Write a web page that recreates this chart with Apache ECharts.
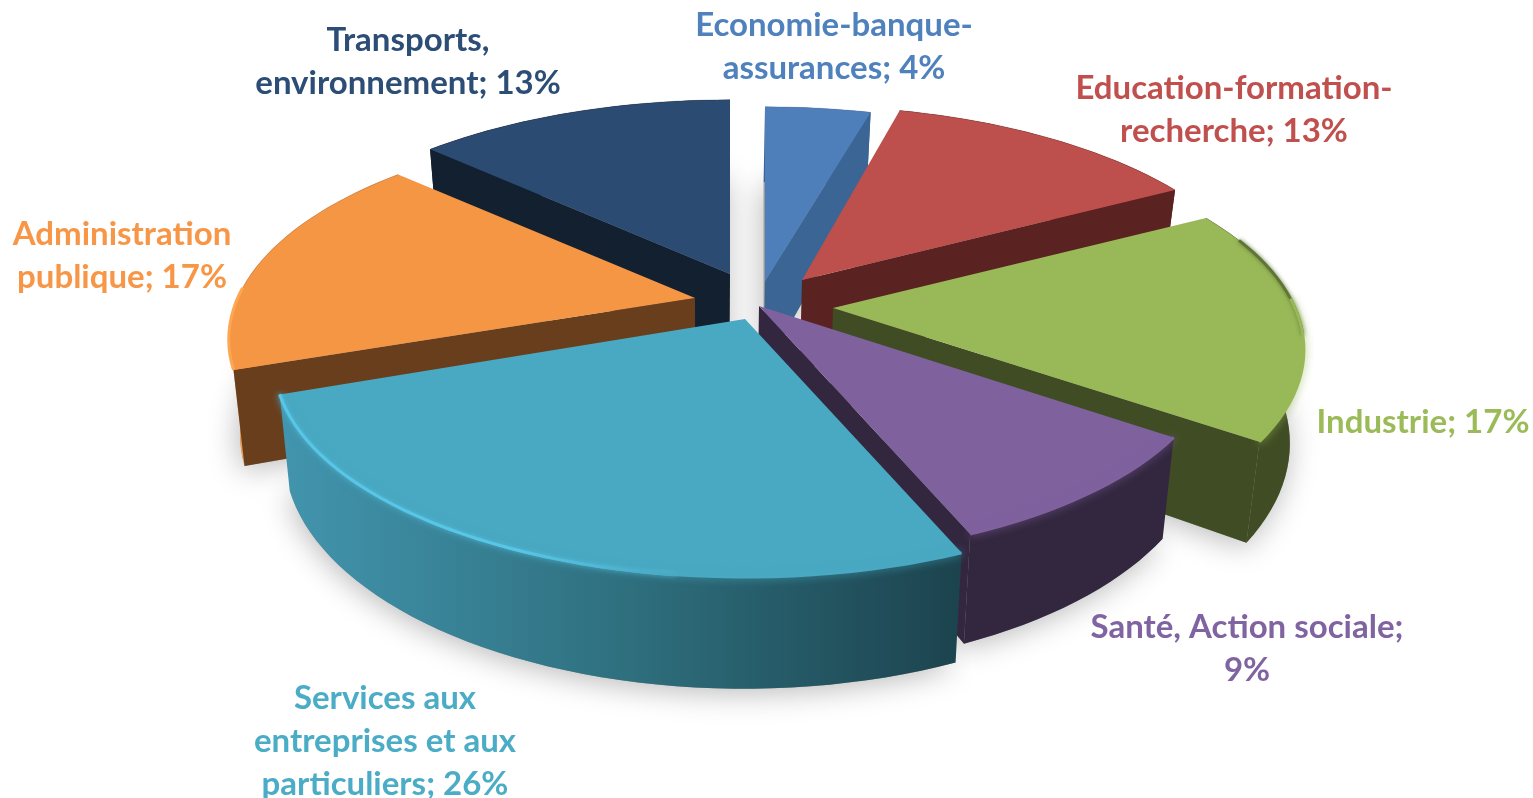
<!DOCTYPE html>
<html>
<head>
<meta charset="utf-8">
<style>
  html, body { margin: 0; padding: 0; background: #fff; }
  #chart { width: 1533px; height: 798px; }
</style>
<script src="https://cdn.jsdelivr.net/npm/echarts@6/dist/echarts.min.js"></script>
</head>
<body>
<div id="chart"></div>
<script>
// values, clockwise from 12 o'clock
const categories = ['Economie-banque-assurances', 'Education-formation-recherche', 'Industrie', 'Santé, Action sociale', 'Services aux entreprises et aux particuliers', 'Administration publique', 'Transports, environnement']
const percents = [4, 13, 17, 9, 26, 17, 13]
const labelLines = [
  ['Economie-banque-', 'assurances; 4%'],
  ['Education-formation-', 'recherche; 13%'],
  ['Industrie; 17%'],
  ['Santé, Action sociale;', '9%'],
  ['Services aux', 'entreprises et aux', 'particuliers; 26%'],
  ['Administration', 'publique; 17%'],
  ['Transports,', 'environnement; 13%'],
]

// look of the slices, same order
const topColors = ['#4e7fba', '#bd4f4c', '#99b958', '#7f619e', '#49a8c2', '#f59645', '#2b4b73']
const wallColors = ['#3a6595', '#5a2220', '#404d24', '#33273f', '#2f7080', '#f59a45', '#12202f']
const faceColors = ['#3a6595', '#5a2220', '#404d24', '#33273f', '#2f7080', '#693e1c', '#12202f']
const labelColors = ['#4f81bd', '#c0504d', '#9bbb59', '#8064a2', '#4bacc6', '#f79646', '#2c4d75']
// where each slice's tip ends up once exploded, and where its label sits
const tips = [[765, 281], [802, 280], [833, 308], [759, 306], [745, 319], [695, 298], [730, 274]]
const labelPos = [[834, 47], [1234, 110], [1423, 422], [1247, 649], [385, 741], [122, 256], [408, 62]]
const angleNudge = [[0, 1.2], [0, 0], [0, 1.2], [1.5, 1], [1, -0.7], [0, 0], [0, 0]]
const radiusTrim = [1, 1, 1, 0.975, 1, 0.99, 1]
const drawOrder = [6, 0, 1, 5, 2, 3, 4]

const RX = 462, RY = 208, PERSP = 0.194, DEPTH = 90, VANISH_X = 705, SHRINK = 0.0235
const total = percents.reduce((a, b) => a + b, 0)

function topPoint(i, deg) {
  const a = deg * Math.PI / 180
  const X = Math.sin(a), Y = Math.cos(a)
  const s = 1 / (1 + PERSP * Y)
  const k = radiusTrim[i]
  return [tips[i][0] + X * RX * s * k, tips[i][1] - Y * RY * s * k, s, Y]
}
function down(p) {
  return [p[0] + (VANISH_X - p[0]) * SHRINK, p[1] + DEPTH * p[2]]
}
function xy(pts) {
  return pts.map(p => [p[0], p[1]])
}
function sliceRim(i, value) {
  const before = percents.slice(0, i).reduce((a, b) => a + b, 0)
  const from = echarts.number.linearMap(before, [0, total], [0, 360]) + angleNudge[i][0]
  const to = echarts.number.linearMap(before + value, [0, total], [0, 360]) + angleNudge[i][1]
  const pts = []
  const n = Math.ceil((to - from) / 2)
  for (let k = 0; k <= n; k += 1) pts.push(topPoint(i, from + (to - from) * k / n))
  return pts
}

// soft ground shadow: the bottom face of every slice
function renderShadow(params, api) {
  const i = api.value(0)
  const rim = sliceRim(i, api.value(1))
  const tip = [tips[i][0], tips[i][1], 1]
  return {
    type: 'polygon',
    shape: { points: [down(tip)].concat(rim.map(down)) },
    style: { fill: '#999', shadowBlur: 30, shadowColor: 'rgba(0,0,0,0.28)', shadowOffsetY: 4, shadowOffsetX: -2 },
  }
}

function renderSlice(params, api) {
  const i = api.value(0)
  const rim = sliceRim(i, api.value(1))
  const first = rim[0]
  const last = rim[rim.length - 1]
  const tip = [tips[i][0], tips[i][1], 1]
  const wallFill = i === 4
    ? new echarts.graphic.LinearGradient(0, 0, 1, 0, [
        { offset: 0, color: '#4295ae' },
        { offset: 0.5, color: '#2f707f' },
        { offset: 1, color: '#1c434e' },
      ])
    : wallColors[i]
  const children = [
    { type: 'polygon', shape: { points: xy(rim).concat(rim.slice().reverse().map(down)) }, style: { fill: wallFill } },
  ]
  // a radial face only shows on the side turned towards the viewer
  if (first[0] < tip[0]) {
    children.push({ type: 'polygon', shape: { points: [xy([tip])[0], xy([first])[0], down(first), down(tip)] }, style: { fill: faceColors[i] } })
  }
  if (last[0] > tip[0]) {
    children.push({ type: 'polygon', shape: { points: [xy([tip])[0], xy([last])[0], down(last), down(tip)] }, style: { fill: faceColors[i] } })
  }
  children.push({ type: 'polygon', shape: { points: xy([tip].concat(rim)) }, style: { fill: topColors[i] } })

  // bevel on the rim: soft edge in front, thin dark line at the back
  const front = rim.filter(p => p[3] < 0.05)
  const back = rim.filter(p => p[3] >= 0)
  if (back.length > 1) {
    children.push({ type: 'polyline', shape: { points: xy(back) }, style: { fill: null, stroke: faceColors[i], lineWidth: 1, opacity: 0.25 } })
  }
  if (i === 2) {
    children.push({ type: 'polyline', shape: { points: xy(rim.filter(p => p[3] > -0.15 && p[3] < 0.35)) }, style: { fill: null, stroke: '#5f7436', lineWidth: 3, shadowBlur: 4, shadowColor: '#5f7436' } })
  }
  if (front.length > 1 && i !== 5) {
    children.push({ type: 'polyline', shape: { points: xy(front) }, style: { fill: null, stroke: topColors[i], lineWidth: 3, shadowBlur: 9, shadowColor: topColors[i] } })
  }
  if (i === 4) {
    const bright = front.filter(p => p[0] < 680)
    children.push({
      type: 'polyline',
      shape: { points: xy(bright) },
      style: {
        fill: null,
        lineWidth: 3,
        shadowBlur: 4,
        shadowColor: 'rgba(88,198,230,0.6)',
        stroke: new echarts.graphic.LinearGradient(0, 0, 1, 0, [
          { offset: 0, color: '#58c6e6' },
          { offset: 0.6, color: '#58c6e6' },
          { offset: 1, color: '#49a8c2' },
        ]),
      },
    })
  }
  if (i === 5) {
    children.push({ type: 'polyline', shape: { points: xy(front) }, style: { fill: null, stroke: '#ffa653', lineWidth: 3 } })
  }
  return { type: 'group', children }
}

function renderLabel(params, api) {
  const i = api.value(0)
  return {
    type: 'text',
    x: labelPos[i][0],
    y: labelPos[i][1],
    style: {
      text: labelLines[i].join('\n'),
      fill: labelColors[i],
      font: 'bold 33px Lato',
      lineHeight: 43,
      align: 'center',
      verticalAlign: 'middle',
    },
  }
}

const sliceData = drawOrder.map(i => [i, percents[i], categories[i]])
const chart = echarts.init(document.getElementById('chart'))
chart.setOption({
  animation: false,
  series: [
    { type: 'custom', coordinateSystem: 'none', renderItem: renderShadow, data: sliceData, silent: true },
    { type: 'custom', coordinateSystem: 'none', renderItem: renderSlice, data: sliceData },
    { type: 'custom', coordinateSystem: 'none', renderItem: renderLabel, data: categories.map((c, i) => [i, percents[i], c]) },
  ],
})
</script>
</body>
</html>
